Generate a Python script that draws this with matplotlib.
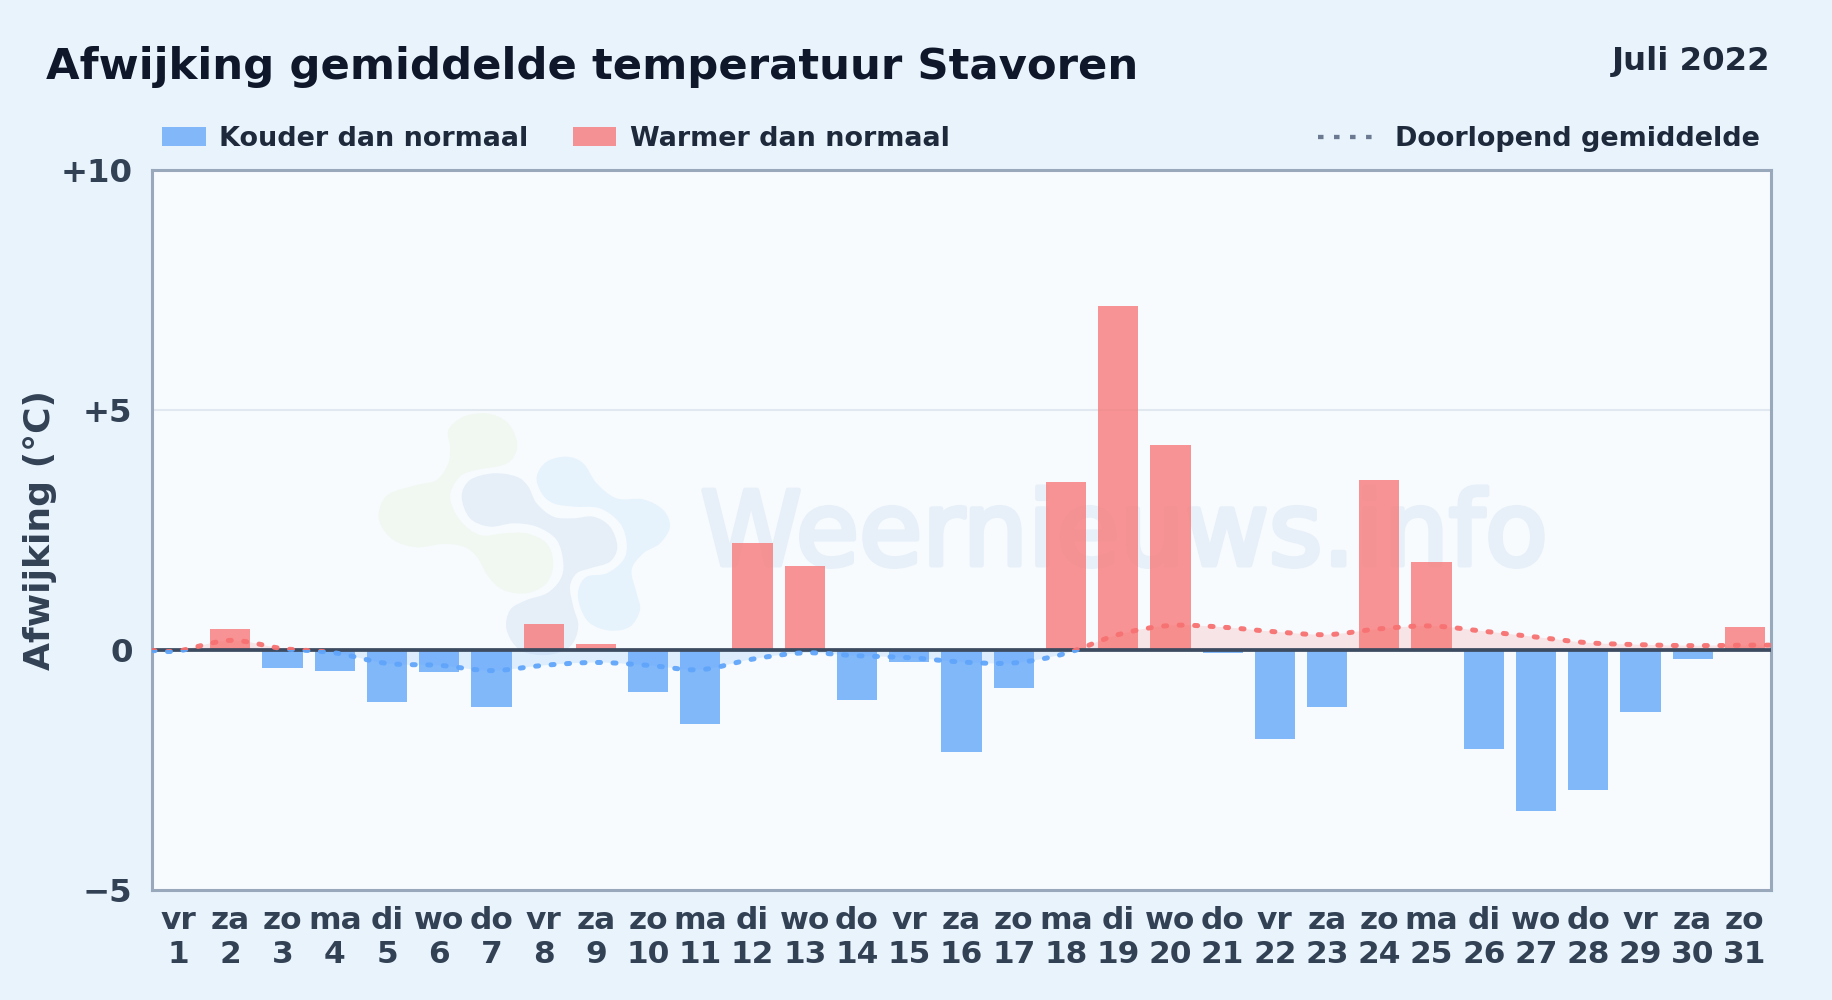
import numpy as np
import matplotlib
matplotlib.use('Agg')
import matplotlib.pyplot as plt
import matplotlib.patheffects as pe
from matplotlib.patches import PathPatch, Rectangle
from matplotlib.path import Path
from matplotlib.transforms import IdentityTransform

W, H = 1832, 1000

# daily deviation in degrees C
days = list(range(1, 32))
weekdays = ['vr', 'za', 'zo', 'ma', 'di', 'wo', 'do'] * 4 + ['vr', 'za', 'zo']
deviation = [0.0, 0.42, -0.38, -0.45, -1.10, -0.47, -1.20, 0.53, 0.12, -0.88,
             -1.56, 2.22, 1.75, -1.06, -0.25, -2.13, -0.81, 3.50, 7.15, 4.27,
             -0.07, -1.86, -1.20, 3.54, 1.83, -2.07, -3.36, -2.92, -1.30, -0.19, 0.46]

# running mean, read at the day centres plus both axis edges
smooth_x = [0.5] + days + [31.5]
smooth_y = [-0.02, -0.03, 0.19, 0.02, -0.07, -0.29, -0.33, -0.44, -0.33, -0.27, -0.33,
            -0.42, -0.20, -0.07, -0.13, -0.17, -0.26, -0.28, -0.08, 0.31, 0.50,
            0.465, 0.37, 0.31, 0.43, 0.49, 0.38, 0.26, 0.14, 0.10, 0.08, 0.09, 0.09]

yticks = [-5, 0, 5, 10]
ytick_labels = ['\u22125', '0', '+5', '+10']

# watermark logo outlines, in pixels of the picture
logo_green = [(265, 120), (310, 80), (380, 70), (440, 95), (470, 150), (465, 195), (430, 225),
              (350, 240), (300, 260), (270, 320), (300, 390), (360, 435), (430, 430), (500, 430),
              (560, 460), (580, 520), (560, 580), (500, 610), (430, 600), (385, 560), (350, 500),
              (310, 470), (250, 462), (170, 472), (100, 450), (60, 400), (60, 350), (90, 310),
              (170, 285), (230, 270), (265, 220), (270, 170)]
logo_middle = [(305, 320), (330, 270), (400, 250), (470, 260), (505, 290), (530, 340), (580, 380),
               (640, 385), (700, 380), (750, 410), (772, 470), (750, 515), (690, 535), (650, 550),
               (630, 590), (640, 650), (655, 710), (630, 770), (560, 795), (480, 780), (440, 720),
               (450, 660), (500, 630), (560, 610), (600, 570), (610, 520), (590, 450), (530, 410),
               (460, 400), (390, 410), (330, 385)]
logo_blue = [(530, 260), (560, 215), (620, 200), (670, 220), (710, 280), (770, 325), (850, 328),
             (910, 360), (930, 410), (900, 460), (850, 490), (815, 540), (830, 610), (840, 660),
             (810, 710), (750, 722), (690, 700), (660, 650), (655, 600), (680, 560), (740, 550),
             (790, 510), (800, 460), (780, 400), (720, 355), (640, 350), (580, 340), (545, 310)]

BG = '#e8f3fc'
PLOT_BG = '#f7fbfe'
BLUE = '#60a5fa'
RED = '#f87171'
DARK = '#0f172a'
SLATE = '#1e293b'
TICK = '#334155'


def smooth_path(x, y):
    # catmull-rom through the points, written as bezier segments
    pts = np.column_stack((x, y)).astype(float)
    padded = np.vstack((pts[0], pts, pts[-1]))
    verts = [pts[0]]
    for i in range(1, len(padded) - 2):
        verts.append(padded[i] + (padded[i + 1] - padded[i - 1]) / 6)
        verts.append(padded[i + 1] - (padded[i + 2] - padded[i]) / 6)
        verts.append(padded[i + 1])
    return np.array(verts)


def blob(points):
    # closed smooth outline, zoom coords of the logo crop -> display pixels
    pts = np.array(points, dtype=float) / 3 + [360, 390]
    pts[:, 1] = H - pts[:, 1]
    n = len(pts)
    verts = [pts[0]]
    for i in range(n):
        verts.append(pts[i] + (pts[(i + 1) % n] - pts[i - 1]) / 6)
        verts.append(pts[(i + 1) % n] - (pts[(i + 2) % n] - pts[i]) / 6)
        verts.append(pts[(i + 1) % n])
    codes = [Path.MOVETO] + [Path.CURVE4] * (len(verts) - 1)
    return Path(np.array(verts), codes)


fig = plt.figure(figsize=(W / 100, H / 100), dpi=100, facecolor=BG)
ax = fig.add_axes([152 / W, 1 - 889.5 / H, (1771 - 152) / W, 720 / H], facecolor=PLOT_BG)
ax.set_xlim(0.5, 31.5)
ax.set_ylim(-5, 10)

# watermark
for outline, colour in [(logo_green, '#f1f8f1'), (logo_middle, '#e6eff8'), (logo_blue, '#e6f3fc')]:
    ax.add_patch(PathPatch(blob(outline), fc=colour, ec='none', transform=IdentityTransform(),
                           clip_on=False, zorder=0.5))
ax.text(1124, H - 565, 'Weernieuws.info', transform=IdentityTransform(), ha='center', va='baseline',
        fontsize=74, color='#e7f0f9', zorder=0.6,
        path_effects=[pe.withStroke(linewidth=3.6, foreground='#e7f0f9')])

ax.axhline(5, color='#e2e8f0', lw=1.5, zorder=1)

# area and dotted curve, same path clipped to either side of zero
verts = smooth_path(smooth_x, smooth_y)
line_path = Path(verts, [Path.MOVETO] + [Path.CURVE4] * (len(verts) - 1))
area_verts = np.vstack((verts, [[31.5, 0], [0.5, 0], verts[0]]))
area_path = Path(area_verts, [Path.MOVETO] + [Path.CURVE4] * (len(verts) - 1) + [Path.LINETO] * 3)

for colour, lower, height in [(RED, 0, 10), (BLUE, -5, 5)]:
    clip = Rectangle((0.5, lower), 31, height, transform=ax.transData)
    area = PathPatch(area_path, fc=colour, ec='none', alpha=0.16, zorder=2)
    ax.add_patch(area)
    area.set_clip_path(clip)
    curve = PathPatch(line_path, fill=False, ec=colour, lw=3.6, linestyle=(0, (0.6, 2.5)),
                      capstyle='round', alpha=0.95, zorder=5)
    ax.add_patch(curve)
    curve.set_clip_path(clip)

colours = [RED if v > 0 else BLUE for v in deviation]
alphas = [0.75 if v > 0 else 0.78 for v in deviation]
ax.bar(days, deviation, width=0.77, color=[matplotlib.colors.to_rgba(c, a) for c, a in zip(colours, alphas)],
       zorder=3)
ax.axhline(0, color='#3d4b60', lw=2.7, zorder=4)

ax.set_xticks(days)
ax.set_xticklabels([f'{d}\n{n}' for d, n in zip(weekdays, days)], fontsize=22.5, fontweight='bold',
                   color=TICK, linespacing=1.2)
ax.set_yticks(yticks)
ax.set_yticklabels(ytick_labels, fontsize=23.3, fontweight='bold', color=TICK)
ax.tick_params(axis='both', length=0)
ax.tick_params(axis='x', pad=12)
ax.tick_params(axis='y', pad=14)
for spine in ax.spines.values():
    spine.set_color('#9aa8bb')
    spine.set_linewidth(2.2)

fig.text(40 / W, 1 - 530 / H, 'Afwijking (\u00b0C)', rotation=90, ha='center', va='center',
         fontsize=26, fontweight='bold', color=TICK)
fig.text(46 / W, 1 - 79 / H, 'Afwijking gemiddelde temperatuur Stavoren', ha='left', va='baseline',
         fontsize=31.2, fontweight='bold', color=DARK)
fig.text(1770 / W, 1 - 70 / H, 'Juli 2022', ha='right', va='baseline',
         fontsize=23.3, fontweight='bold', color=SLATE)

# legend placed by hand so the dotted entry can sit at the right
fig.add_artist(Rectangle((162 / W, 1 - 146 / H), 44 / W, 19 / H, transform=fig.transFigure,
                         fc=BLUE, alpha=0.75, ec='none'))
fig.add_artist(Rectangle((573 / W, 1 - 146 / H), 43 / W, 19 / H, transform=fig.transFigure,
                         fc=RED, alpha=0.75, ec='none'))
fig.add_artist(plt.Line2D([1318 / W, 1372.5 / W], [1 - 137 / H, 1 - 137 / H], transform=fig.transFigure,
                          color='#64748b', alpha=0.95, lw=3.1, linestyle=(0, (1.28, 2.44)), dash_capstyle='butt'))
for x, label in [(219, 'Kouder dan normaal'), (630, 'Warmer dan normaal'), (1395, 'Doorlopend gemiddelde')]:
    fig.text(x / W, 1 - 146 / H, label, ha='left', va='baseline', fontsize=19.45, fontweight='bold', color=SLATE)

fig.savefig('out.png', dpi=100, facecolor=BG)
